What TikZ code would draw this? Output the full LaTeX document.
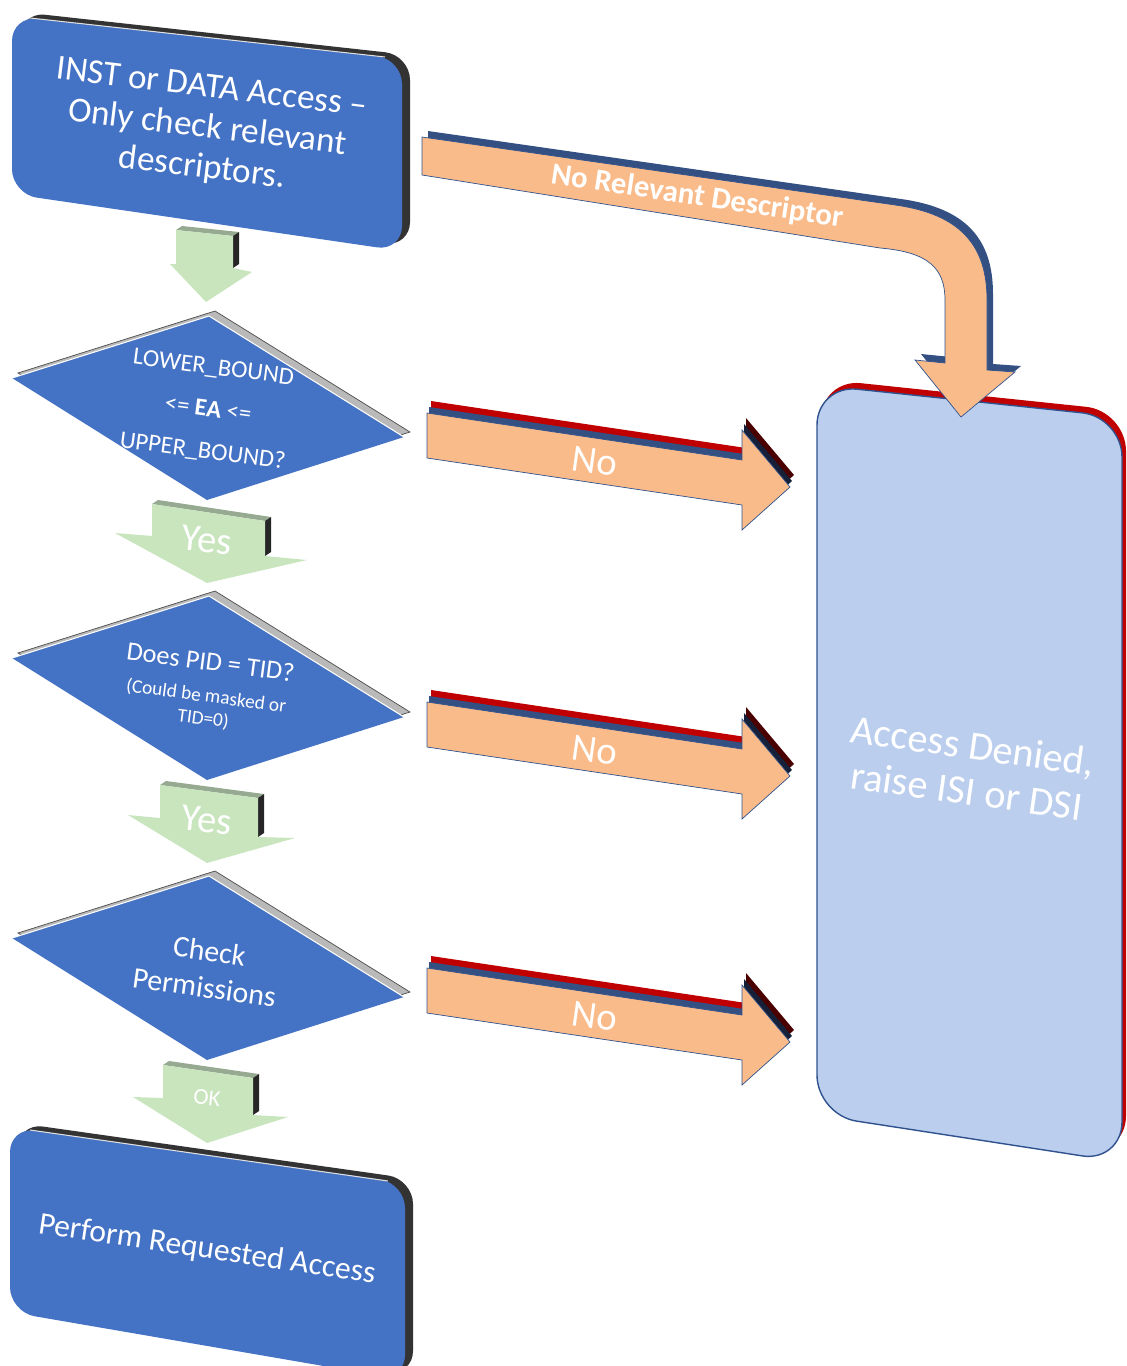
\documentclass[tikz,border=0pt]{standalone}
\usepackage{fontspec}
\setmainfont{Carlito}
\usepackage{tikz}
\usetikzlibrary{calc}
\definecolor{azul}{RGB}{68,114,196}
\definecolor{azulclaro}{RGB}{187,206,238}
\definecolor{azulborde}{RGB}{47,82,143}
\definecolor{azulcanto}{RGB}{52,80,130}
\definecolor{naranja}{RGB}{250,187,138}
\definecolor{rojo}{RGB}{192,0,0}
\definecolor{granate}{RGB}{75,0,0}
\definecolor{marino}{RGB}{22,32,56}
\definecolor{verde}{RGB}{201,229,190}
\definecolor{verdecanto}{RGB}{150,170,146}

% flecha verde: TL, TR, BR, ala der., punta, ala izq., BL
\newcommand{\flechaverde}[7]{%
  \fill[verdecanto] (#1) -- ($(#1)+(6,-4)$) -- ($(#2)+(6,-4)$) -- (#2) -- cycle;
  \fill[black!85] (#2) -- ($(#2)+(6,-4)$) -- ($(#3)+(6,-4)$) -- (#3) -- cycle;
  \fill[verde] (#1) -- (#2) -- (#3) -- (#4) -- (#5) -- (#6) -- (#7) -- cycle;}

\begin{document}
\begin{tikzpicture}[x=0.02cm, y=-0.02cm,
  txt/.style={text=white, align=center, inner sep=0pt},
  caja/.style={fill=azul, rounded corners=0.5cm},
  canto/.style={fill=black!80, rounded corners=0.5cm},
  rombo/.style={fill=azul},
  flechano/.style={fill=naranja, draw=azulborde, line width=0.4pt}]
  \useasboundingbox (0,0) rectangle (1126,1366);
  \clip (0,0) rectangle (1126,1366);
  % Caja de entrada
  \fill[canto, shift={(8,-4)}] (12,16) -- (402,59) -- (402,251) -- (12,194) -- cycle;
  \fill[caja] (12,16) -- (402,59) -- (402,251) -- (12,194) -- cycle;
  \draw[white!75!gray, line width=0.6pt] (30,18) -- (385,57);
  \node[txt, rotate=-7, font=\fontsize{20}{23}\selectfont] (inst) at (207,129)
       {INST or DATA Access --\\Only check relevant\\descriptors.};
  % Rombos
  \foreach \d in {0,280,560}{
    \filldraw[fill=gray!55, draw=black!70, line width=0.4pt, shift={(6,-5)}]
      (12,378+\d) -- (209,316+\d) -- (404,437+\d) -- (207,500+\d) -- cycle;
    \fill[rombo] (12,378+\d) -- (209,316+\d) -- (404,437+\d) -- (207,500+\d) -- cycle;
    \draw[white, line width=0.6pt] (12,378+\d) -- (209,316+\d) -- (404,437+\d);
  }
  \node[txt, rotate=-7.5, font=\fontsize{14}{24}\selectfont] (limites) at (208,410)
       {LOWER\_BOUND\\<= \textbf{EA} <=\\UPPER\_BOUND?};
  \node[txt, rotate=-7.5, font=\fontsize{11}{13}\selectfont] (pid) at (207,690)
       {{\fontsize{15}{18}\selectfont Does PID = TID?}\\[5pt](Could be masked or\\TID=0)};
  \node[txt, rotate=-8, font=\fontsize{17}{21}\selectfont] (permisos) at (207,969)
       {Check\\Permissions};
  % Flechas verdes
  \flechaverde{176,230}{233,236}{233,268}{252,272}{206,302}{170,264}{176,264}
  \flechaverde{152,504}{265,521}{265,556}{307,560}{207,583}{115,533}{152,536}
  \flechaverde{160,785}{258,798}{258,837}{295,838}{207,863}{128,815}{160,818}
  \flechaverde{163,1065}{253,1078}{253,1115}{288,1117}{207,1143}{133,1097}{163,1098}
  \node[txt, rotate=-6, font=\fontsize{22}{24}\selectfont] (si1) at (207,540) {Yes};
  \node[txt, rotate=-6, font=\fontsize{22}{24}\selectfont] (si2) at (207,820) {Yes};
  \node[txt, rotate=-6, font=\fontsize{13}{15}\selectfont] (ok) at (207,1098) {OK};
  % Caja final
  \fill[canto, shift={(8,-4)}] (10,1127) -- (405,1183) -- (405,1380) -- (10,1312) -- cycle;
  \fill[caja] (10,1127) -- (405,1183) -- (405,1380) -- (10,1312) -- cycle;
  \draw[white!75!gray, line width=0.6pt] (30,1130) -- (388,1181);
  \node[txt, rotate=-8.5, font=\fontsize{18}{21}\selectfont] (acceso) at (207,1250)
       {Perform Requested Access};
  % Caja de acceso denegado
  \fill[rojo, shift={(4,-6)}, rounded corners=0.8cm]
    (817,385) -- (1122,417) -- (1122,1162) -- (817,1115) -- cycle;
  \filldraw[fill=azulclaro, draw=azulborde, line width=0.8pt, rounded corners=0.8cm]
    (817,385) -- (1122,417) -- (1122,1162) -- (817,1115) -- cycle;
  \node[txt, rotate=-8, font=\fontsize{23}{26}\selectfont] (denegado) at (970,768)
       {Access Denied,\\raise ISI or DSI};
  % Flechas No
  \foreach \d [count=\i] in {0,289,555}{
    \begin{scope}[shift={(4,-12)}]
      \fill[rojo] (427,413+\d) -- (742,460+\d) -- (742,505+\d) -- (427,458+\d) -- cycle;
      \fill[granate] (742,430+\d) -- (790,487+\d) -- (742,530+\d) -- cycle;
    \end{scope}
    \begin{scope}[shift={(2,-6)}]
      \fill[azulcanto] (427,413+\d) -- (742,460+\d) -- (742,505+\d) -- (427,458+\d) -- cycle;
      \fill[marino] (742,430+\d) -- (790,487+\d) -- (742,530+\d) -- cycle;
    \end{scope}
    \filldraw[flechano] (427,413+\d) -- (742,460+\d) -- (742,430+\d) -- (790,487+\d)
      -- (742,530+\d) -- (742,505+\d) -- (427,458+\d) -- cycle;
    \node[txt, rotate=-8, font=\fontsize{22}{24}\selectfont] (no\i) at (595,461+\d) {No};
  }
  % Flecha curva
  \fill[azulcanto, shift={(6,-6)}] (422,137) -- (895,205)
    .. controls (960,214) and (987,245) .. (987,300) -- (987,370) -- (1015,372)
    -- (961,417) -- (915,360) -- (945,363) -- (945,300)
    .. controls (945,268) and (928,252) .. (880,248) -- (422,175) -- cycle;
  \filldraw[flechano] (422,137) -- (895,205)
    .. controls (960,214) and (987,245) .. (987,300) -- (987,370) -- (1015,372)
    -- (961,417) -- (915,360) -- (945,363) -- (945,300)
    .. controls (945,268) and (928,252) .. (880,248) -- (422,175) -- cycle;
  \node[txt, rotate=-8.5, font=\bfseries\fontsize{17.5}{20}\selectfont] (sindesc) at (697,197)
       {No Relevant Descriptor};
\end{tikzpicture}
\end{document}
